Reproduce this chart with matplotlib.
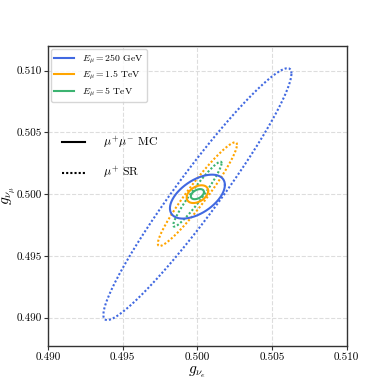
import numpy as np
import matplotlib
matplotlib.use("Agg")
import matplotlib.pyplot as plt
from matplotlib.lines import Line2D

plt.rcParams['font.family'] = 'serif'
plt.rcParams['font.serif'] = ['cmr10']
plt.rcParams['mathtext.fontset'] = 'cm'
plt.rcParams['axes.formatter.use_mathtext'] = True

# Ellipse parameters: (center_x, center_y, sigma_x, sigma_y, rho)
energies = [r'$E_\mu = 250$ GeV', r'$E_\mu = 1.5$ TeV', r'$E_\mu = 5$ TeV']
colors = ['#4169E1', '#FFA500', '#3CB371']
mc_cx = [0.5000, 0.5000, 0.5000]
mc_cy = [0.4998, 0.5000, 0.5000]
mc_sx = [0.00184, 0.00072, 0.00044]
mc_sy = [0.00178, 0.00072, 0.00041]
mc_rho = [0.53, 0.38, 0.42]
sr_cx = [0.5000, 0.5000, 0.5000]
sr_cy = [0.5000, 0.5000, 0.5000]
sr_sx = [0.0063, 0.00265, 0.00162]
sr_sy = [0.0102, 0.0042, 0.00263]
sr_rho = [0.958, 0.952, 0.955]
xticks = [0.490, 0.495, 0.500, 0.505, 0.510]
yticks = [0.490, 0.495, 0.500, 0.505, 0.510]


def ellipse_pts(cx, cy, sx, sy, rho, n=400):
    t = np.linspace(0, 2 * np.pi, n)
    C = np.array([[sx * sx, rho * sx * sy], [rho * sx * sy, sy * sy]])
    L = np.linalg.cholesky(C)
    p = L @ np.vstack([np.cos(t), np.sin(t)])
    return cx + p[0], cy + p[1]


DOT = (0, (1, 1))

fig = plt.figure(figsize=(3.85, 3.85), dpi=100)
ax = fig.add_axes([0.125, 0.1013, 0.7755, 0.7792])

for i in range(3):
    x, y = ellipse_pts(sr_cx[i], sr_cy[i], sr_sx[i], sr_sy[i], sr_rho[i])
    ax.plot(x, y, color=colors[i], lw=1.5, linestyle=DOT)
for i in range(3):
    x, y = ellipse_pts(mc_cx[i], mc_cy[i], mc_sx[i], mc_sy[i], mc_rho[i])
    ax.plot(x, y, color=colors[i], lw=1.5)

ax.set_xlim(0.490, 0.510)
ax.set_ylim(0.4877, 0.5120)
ax.set_xticks(xticks)
ax.set_yticks(yticks)
ax.xaxis.set_major_formatter(matplotlib.ticker.FormatStrFormatter('%.3f'))
ax.yaxis.set_major_formatter(matplotlib.ticker.FormatStrFormatter('%.3f'))
ax.tick_params(labelsize=8, length=3, pad=1.5, color='#333333')
ax.grid(True, linestyle='--', color='#dddddd', lw=0.8)
ax.set_axisbelow(True)
for s in ax.spines.values():
    s.set_color('#333333')
    s.set_linewidth(1.0)

ax.set_xlabel(r'$g_{\nu_e}$', fontsize=11, labelpad=2)
ax.set_ylabel(r'$g_{\nu_\mu}$', fontsize=11)
ax.yaxis.set_label_coords(-0.102, 0.5)

h1 = [Line2D([], [], color=c, lw=1.5) for c in colors]
leg1 = ax.legend(h1, energies, loc='upper left', fontsize=7, frameon=True,
                 fancybox=True, edgecolor='#cccccc', borderaxespad=0.3,
                 labelspacing=0.35, borderpad=0.35)
ax.add_artist(leg1)

h2 = [Line2D([], [], color='black', lw=1.5),
      Line2D([], [], color='black', lw=1.5, linestyle=DOT)]
ax.legend(h2, [r'$\mu^{+}\mu^{-}$ MC', r'$\mu^{+}$ SR'], loc='center left',
          bbox_to_anchor=(0.03, 0.627), fontsize=8.5, frameon=False,
          handletextpad=1.5, labelspacing=1.2, borderaxespad=0)

fig.savefig('out.png', dpi=100)
